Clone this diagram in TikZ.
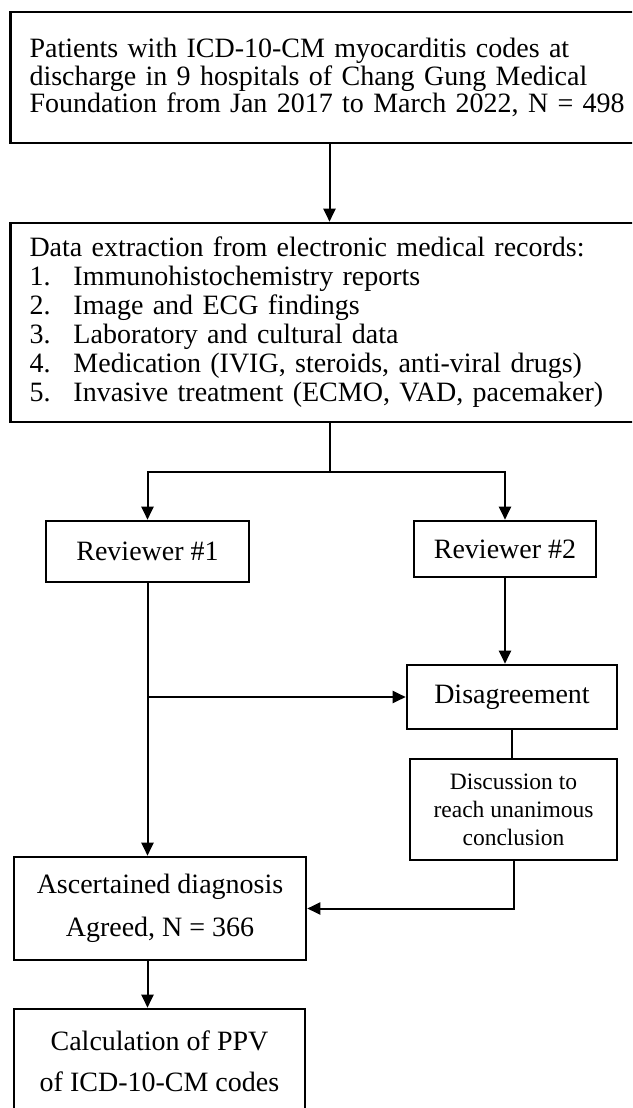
\documentclass[tikz,border=0pt]{standalone}
\usepackage{fontspec}
\setmainfont{Liberation Serif}
\usetikzlibrary{arrows.meta}

\begin{document}
\begin{tikzpicture}[x=1pt, y=1pt, line width=2pt, >={Triangle[length=13pt, width=12pt]}, font=\fontsize{28}{27.5}\selectfont]
    \clip (0,0) rectangle (632,-1108);
    \useasboundingbox (0,0) rectangle (632,-1108);

    \node (patients) [draw, rectangle, line width=2.6pt, minimum width=631pt, minimum height=131pt, inner xsep=19pt, text width=600pt, align=left] at (329.5,-77.5) {Patients with ICD-10-CM myocarditis codes at\\discharge in 9 hospitals of Chang Gung Medical\\Foundation from Jan 2017 to March 2022, N = 498};
    \node (records) [draw, rectangle, line width=2.6pt, below of=patients, node distance=245pt, minimum width=631pt, minimum height=199pt, inner xsep=19pt, text width=600pt, align=left, font=\fontsize{28}{29}\selectfont] {Data extraction from electronic medical records:\\\makebox[44pt][l]{1.}Immunohistochemistry reports\\\makebox[44pt][l]{2.}Image and ECG findings\\\makebox[44pt][l]{3.}Laboratory and cultural data\\\makebox[44pt][l]{4.}Medication (IVIG, steroids, anti-viral drugs)\\\makebox[44pt][l]{5.}Invasive treatment (ECMO, VAD, pacemaker)};
    \node (rev1) [draw, rectangle, line width=2.6pt, below of=records, node distance=229pt, xshift=-182pt, minimum width=203pt, minimum height=61pt, inner sep=0pt] {Reviewer \#1};
    \node (rev2) [draw, rectangle, line width=2.6pt, below of=records, node distance=226.5pt, xshift=175.5pt, minimum width=182pt, minimum height=56pt, inner sep=0pt] {Reviewer \#2};
    \node (disagree) [draw, rectangle, line width=2.6pt, below of=rev2, node distance=148pt, xshift=7pt, minimum width=210pt, minimum height=64pt, inner sep=0pt] {Disagreement};
    \node (discuss) [draw, rectangle, line width=2.6pt, below of=disagree, node distance=112.5pt, xshift=1.5pt, minimum width=207pt, minimum height=101pt, inner sep=0pt, align=center, font=\fontsize{23.5}{28}\selectfont] {Discussion to\\reach unanimous\\conclusion};
    \node (agreed) [draw, rectangle, line width=2.6pt, below of=rev1, node distance=357pt, xshift=12.5pt, minimum width=292pt, minimum height=103pt, inner sep=0pt, align=center, font=\fontsize{28}{43}\selectfont] {Ascertained diagnosis\\Agreed, N = 366};
    \node (ppv) [draw, rectangle, line width=2.6pt, below of=agreed, node distance=152.5pt, xshift=-0.5pt, minimum width=291pt, minimum height=104pt, inner sep=0pt, align=center, font=\fontsize{28}{41}\selectfont] {Calculation of PPV\\of ICD-10-CM codes};

    \draw[->] (patients) -- (records);
    \draw (records.south) -- ++(0,-49) coordinate (split);
    \draw[->] (split) -| (rev1);
    \draw[->] (split) -| (rev2);
    \draw[->] (rev2.south) -- (rev2.south |- disagree.north);
    \draw[->] (rev1.south) -- (rev1.south |- agreed.north);
    \draw[->] (rev1.south |- disagree.west) -- (disagree.west);
    \draw (disagree.south) -- (disagree.south |- discuss.north);
    \draw[->] (discuss.south) |- (agreed.east);
    \draw[->] (agreed.south -| rev1.south) -- (ppv.north -| rev1.south);
\end{tikzpicture}
\end{document}
